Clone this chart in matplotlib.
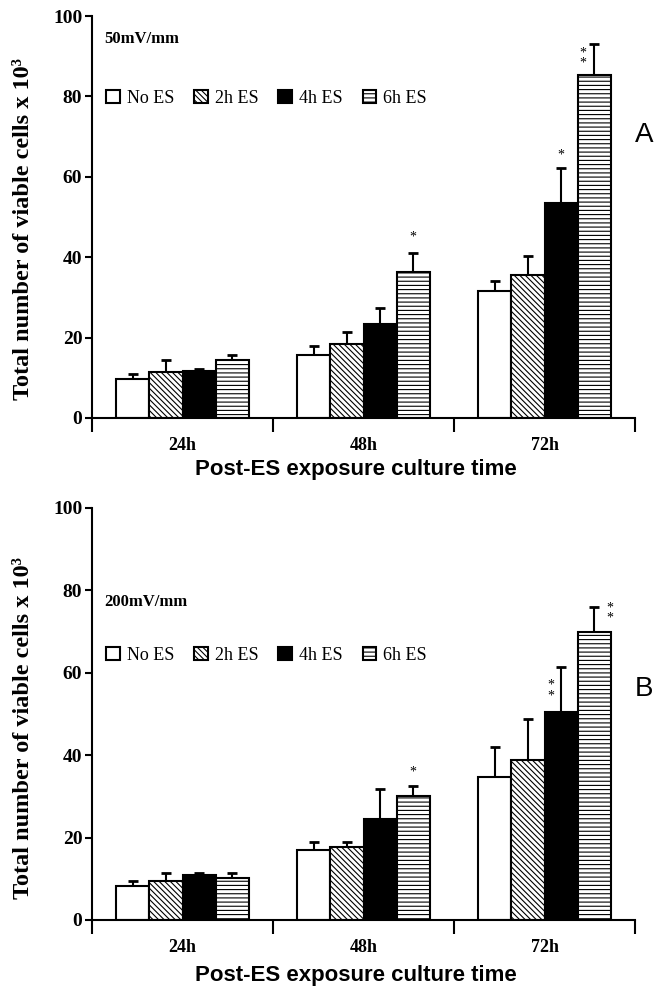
import numpy as np
import matplotlib.pyplot as plt

# Data (cells x 10^3)
times = ["24h", "48h", "72h"]
groups = ["No ES", "2h ES", "4h ES", "6h ES"]

# Panel A: 50 mV/mm
a_no_es = [9.7, 15.7, 31.5]
a_2h = [11.5, 18.4, 35.5]
a_4h = [11.8, 23.4, 53.6]
a_6h = [14.4, 36.2, 85.3]
a_no_es_err = [1.3, 2.1, 2.7]
a_2h_err = [2.9, 2.9, 4.8]
a_4h_err = [0.5, 3.9, 8.5]
a_6h_err = [1.3, 4.8, 7.7]

# Panel B: 200 mV/mm
b_no_es = [8.2, 17.0, 34.7]
b_2h = [9.4, 17.6, 38.8]
b_4h = [10.9, 24.6, 50.4]
b_6h = [10.2, 30.0, 70.0]
b_no_es_err = [1.3, 2.0, 7.3]
b_2h_err = [2.0, 1.4, 9.9]
b_4h_err = [0.5, 7.3, 10.9]
b_6h_err = [1.2, 2.6, 6.0]

# significance marks: (time index, group index, text)
a_marks = [(1, 3, "*"), (2, 2, "*"), (2, 3, "*\n*")]
b_marks = [(1, 3, "*"), (2, 2, "*\n*"), (2, 3, "*\n*")]
# offsets of the marks in pixels from the error bar top
a_mark_off = [(0, 16), (0, 13), (-11, -14)]
b_mark_off = [(0, 14), (-10, -23), (16, -6)]

serif = "Liberation Serif"
sans = "Liberation Sans"
plt.rcParams["hatch.linewidth"] = 0.8

styles = [
    dict(color="white", hatch=None),
    dict(color="white", hatch="\\\\\\\\\\\\"),
    dict(color="black", hatch=None),
    dict(color="white", hatch="----"),
]

W, H = 662, 999
fig = plt.figure(figsize=(W / 100, H / 100), dpi=100)


def panel(ax, vals, errs, marks, mark_off, field, letter, field_y, leg_y, ylab_y):
    x = np.arange(len(times))
    w = 0.1825
    offs = [-1.5 * w, -0.5 * w, 0.5 * w, 1.5 * w]
    for i in range(4):
        ax.bar(x + offs[i], vals[i], w, color=styles[i]["color"],
               hatch=styles[i]["hatch"], edgecolor="black", linewidth=1.5,
               label=groups[i], zorder=2)
        ax.errorbar(x + offs[i], vals[i], yerr=[np.zeros(3), errs[i]],
                    fmt="none", ecolor="black", elinewidth=1.5, capsize=3.5,
                    capthick=2, zorder=1)
    for (t, g, txt), (dx, dy) in zip(marks, mark_off):
        ax.annotate(txt, (x[t] + offs[g], vals[g][t] + errs[g][t]),
                    xytext=(dx, dy), textcoords="offset pixels",
                    ha="center", va="center", fontsize=10, family=serif,
                    linespacing=0.75)

    ax.set_xlim(-0.5, 2.5)
    ax.set_ylim(0, 100)
    ax.set_yticks(np.arange(0, 101, 20))
    ax.set_xticks([-0.5, 0.5, 1.5, 2.5])
    ax.set_xticks(x, minor=True)
    ax.set_xticklabels([])
    ax.set_xticklabels(times, minor=True, fontsize=13, fontweight="bold",
                       family=serif)
    ax.tick_params(axis="x", which="major", length=10, width=1.5)
    ax.tick_params(axis="x", which="minor", length=0, pad=14)
    ax.tick_params(axis="y", length=5, width=1.5, pad=2)
    for lab in ax.get_yticklabels():
        lab.set_fontsize(14)
        lab.set_fontweight("bold")
        lab.set_family(serif)
    for s in ["top", "right"]:
        ax.spines[s].set_visible(False)
    for s in ["left", "bottom"]:
        ax.spines[s].set_linewidth(1.5)

    ax.set_ylabel("Total number of viable cells x 10³", fontsize=17.5,
                  fontweight="bold", family=serif)
    ax.yaxis.set_label_coords(-0.107, ylab_y)
    ax.text(0.022, field_y, field, transform=ax.transAxes, fontsize=12,
            fontweight="bold", family=serif, va="center")
    ax.legend(loc="center left", bbox_to_anchor=(0.026, leg_y), ncol=4,
              frameon=False, prop=dict(family=serif, size=13),
              handlelength=0.75, handleheight=0.75, handletextpad=0.4,
              columnspacing=1.1, borderpad=0, borderaxespad=0)
    ax.text(1.0, letter[1], letter[0], transform=ax.transAxes, fontsize=20,
            family=sans, va="center", ha="left")


ax_a = fig.add_axes([92 / W, 1 - 418 / H, 543 / W, 402 / H])
panel(ax_a, [a_no_es, a_2h, a_4h, a_6h],
      [a_no_es_err, a_2h_err, a_4h_err, a_6h_err],
      a_marks, a_mark_off, "50mV/mm", ("A", 0.705), 0.943, 0.795, 0.47)

ax_b = fig.add_axes([92 / W, 1 - 920 / H, 543 / W, 412 / H])
panel(ax_b, [b_no_es, b_2h, b_4h, b_6h],
      [b_no_es_err, b_2h_err, b_4h_err, b_6h_err],
      b_marks, b_mark_off, "200mV/mm", ("B", 0.56), 0.772, 0.643, 0.466)

fig.text(356 / W, 1 - 470 / H, "Post-ES exposure culture time", fontsize=16,
         fontweight="bold", family=sans, ha="center", va="center")
fig.text(356 / W, 1 - 975 / H, "Post-ES exposure culture time", fontsize=16,
         fontweight="bold", family=sans, ha="center", va="center")

fig.savefig("out.png", dpi=100)
